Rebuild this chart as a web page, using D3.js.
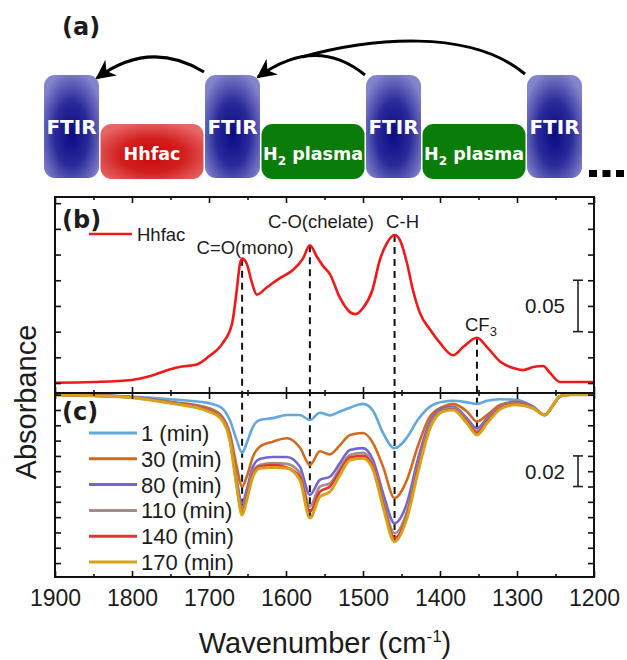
<!DOCTYPE html>
<html lang="en">
<head>
<meta charset="UTF-8">
<title>FTIR Hhfac / H2 plasma</title>
<script src="https://cdn.jsdelivr.net/npm/d3@7/dist/d3.min.js"></script>
<style>
  body{margin:0;background:#fff;}
  svg text{font-family:"Liberation Sans", Arial, sans-serif; fill:#1c1c1c;}
  svg text.bold{font-family:"DejaVu Sans", Verdana, sans-serif; font-weight:bold;}
  .frame{fill:none;stroke:#111;stroke-width:2px;}
  .axis path{display:none;}
  .axis line{stroke:#111;stroke-width:1.6px;}
  .axis text{font-size:23px;}
  .spec{fill:none;stroke-width:2.6px;stroke-linejoin:round;}
</style>
</head>
<body>
<svg id="main" width="627" height="660"></svg>
<script>
// ---- data ----
const steps = ["FTIR", "Hhfac", "FTIR", "H2 plasma", "FTIR", "H2 plasma", "FTIR"];
const arrowFrom = [2, 4, 6];
const arrowTo = [0, 2, 2];

const wnTicks = [1900, 1800, 1700, 1600, 1500, 1400, 1300, 1200];
const wnMinor = [1850, 1750, 1650, 1550, 1450, 1350, 1250];

// (b) Hhfac spectrum
const hhfacWn = [1900, 1850, 1800, 1775, 1750, 1735, 1716, 1700, 1682, 1670, 1664, 1660, 1657, 1651, 1644, 1638,
  1625, 1608, 1591, 1578, 1569, 1560, 1552, 1543, 1530, 1517, 1510, 1500, 1488, 1478, 1469, 1459, 1452, 1443,
  1435, 1426, 1413, 1400, 1383, 1370, 1352, 1339, 1322, 1305, 1292, 1279, 1266, 1257, 1244, 1200];
const hhfacAbs = [0.0003, 0.001, 0.003, 0.007, 0.0135, 0.016, 0.018, 0.026, 0.039, 0.058, 0.090, 0.115, 0.121, 0.116, 0.097, 0.086,
  0.093, 0.102, 0.110, 0.121, 0.134, 0.123, 0.114, 0.106, 0.083, 0.069, 0.067, 0.073, 0.090, 0.120, 0.136, 0.144, 0.139, 0.117,
  0.090, 0.068, 0.052, 0.039, 0.027, 0.035, 0.044, 0.035, 0.021, 0.0146, 0.0126, 0.0155, 0.0165, 0.0097, 0.001, 0.001];

// (c) difference spectra after plasma time
const diffWn = [1900, 1850, 1800, 1750, 1700, 1683, 1673, 1664, 1657, 1651, 1643, 1634, 1617, 1599, 1582, 1569, 1556, 1543,
  1530, 1517, 1500, 1487, 1474, 1459, 1443, 1429, 1413, 1396, 1383, 1365, 1352, 1339, 1322, 1301, 1279, 1264, 1253, 1244, 1230, 1200];
const t1 = [0, -0.0005, -0.0013, -0.003, -0.0055, -0.0088, -0.0166, -0.0297, -0.038, -0.0316, -0.021, -0.0166, -0.0153, -0.0133,
  -0.0133, -0.0165, -0.0118, -0.0135, -0.011, -0.0085, -0.006, -0.0105, -0.025, -0.035, -0.028, -0.0166, -0.0078, -0.0046, -0.004,
  -0.005, -0.006, -0.004, -0.003, -0.0033, -0.0078, -0.0133, -0.0067, -0.001, 0, 0];
const t30 = [0, -0.0006, -0.0015, -0.0046, -0.0088, -0.0143, -0.025, -0.047, -0.060, -0.0536, -0.0405, -0.034, -0.0307, -0.0285,
  -0.0345, -0.046, -0.037, -0.039, -0.033, -0.0263, -0.025, -0.0316, -0.047, -0.0675, -0.0557, -0.034, -0.0143, -0.0078, -0.006,
  -0.011, -0.0176, -0.0133, -0.0067, -0.0046, -0.008, -0.0133, -0.0067, -0.001, 0, 0];
const t80 = [0, -0.0006, -0.0016, -0.005, -0.010, -0.015, -0.0275, -0.0557, -0.071, -0.062, -0.047, -0.042, -0.0407, -0.0407,
  -0.047, -0.0655, -0.0557, -0.0536, -0.0447, -0.0361, -0.0349, -0.0427, -0.0643, -0.084, -0.071, -0.0427, -0.0176, -0.0088, -0.0078,
  -0.0153, -0.022, -0.0153, -0.0078, -0.005, -0.008, -0.0133, -0.0067, -0.001, 0, 0];
const t110 = [0, -0.0006, -0.0017, -0.0052, -0.0103, -0.0155, -0.0285, -0.058, -0.074, -0.065, -0.050, -0.046, -0.0447, -0.0452,
  -0.051, -0.073, -0.060, -0.058, -0.048, -0.0394, -0.038, -0.046, -0.069, -0.0905, -0.0765, -0.047, -0.0198, -0.010, -0.0088,
  -0.0166, -0.024, -0.0166, -0.0083, -0.0055, -0.0085, -0.0133, -0.0067, -0.001, 0, 0];
const t140 = [0, -0.0006, -0.0018, -0.0054, -0.0106, -0.016, -0.029, -0.059, -0.0765, -0.067, -0.052, -0.047, -0.046, -0.0475,
  -0.0536, -0.0765, -0.0634, -0.060, -0.050, -0.041, -0.040, -0.047, -0.071, -0.0937, -0.079, -0.049, -0.021, -0.0105, -0.0095,
  -0.0175, -0.025, -0.0175, -0.009, -0.006, -0.0088, -0.0133, -0.0067, -0.001, 0, 0];
const t170 = [0, -0.0007, -0.002, -0.0055, -0.011, -0.0166, -0.0297, -0.060, -0.0786, -0.069, -0.0536, -0.048, -0.0475, -0.048,
  -0.0557, -0.0806, -0.0667, -0.0634, -0.0525, -0.0427, -0.0416, -0.049, -0.0732, -0.096, -0.0808, -0.0514, -0.022, -0.011, -0.010,
  -0.0187, -0.0263, -0.0187, -0.0095, -0.0065, -0.0089, -0.0133, -0.0067, -0.001, 0, 0];
const timeLabels = ["1 (min)", "30 (min)", "80 (min)", "110 (min)", "140 (min)", "170 (min)"];
const timeSeries = [t1, t30, t80, t110, t140, t170];
const timeColors = ["#62a8dc", "#d06a1c", "#7466d0", "#a48c88", "#d83838", "#d6a21a"];

// peak markers
const peakWn = [1657, 1569, 1459, 1352];
const peakNames = ["C=O(mono)", "C-O(chelate)", "C-H", "CF3"];

// scale bars
const barB = [0.05, 0.10], barBLabel = "0.05";
const barC = [-0.06, -0.04], barCLabel = "0.02";

// ---- drawing ----
let svg = d3.select('svg#main');
let defs = svg.append('defs');

function radial(id, c0, c1, c2) {
  let g = defs.append('radialGradient').attr('id', id)
    .attr('cx', '50%').attr('cy', '57%').attr('r', '62%');
  g.append('stop').attr('offset', '0%').attr('stop-color', c0);
  g.append('stop').attr('offset', '50%').attr('stop-color', c1);
  g.append('stop').attr('offset', '100%').attr('stop-color', c2);
}
radial('gFtir', '#0a0a84', '#2a2a9a', '#8484cc');
radial('gHhfac', '#c80a0a', '#d21e1e', '#e66666');

defs.append('marker').attr('id', 'head')
  .attr('viewBox', '0 0 10 10').attr('refX', 9).attr('refY', 5)
  .attr('markerWidth', 6.5).attr('markerHeight', 6.5).attr('orient', 'auto')
  .append('path').attr('d', 'M0,0 L10,5 L0,10 L3,5 Z').attr('fill', '#000');

// (a) schematic
let diag = svg.append('g');
let boxes = [];
let cx = 44;
steps.forEach(function (s) {
  let w = s === 'FTIR' ? 55 : 103;
  boxes.push({name: s, x0: cx, x1: cx + w, top: s === 'FTIR' ? 75 : 124, bottom: s === 'FTIR' ? 178 : 179});
  cx += w + 1.5;
});
diag.selectAll('rect.step').data(boxes).enter().append('rect')
  .attr('class', 'step')
  .attr('x', d => d.x0).attr('y', d => d.top)
  .attr('width', d => d.x1 - d.x0).attr('height', d => d.bottom - d.top)
  .attr('rx', 11)
  .attr('fill', d => d.name === 'FTIR' ? 'url(#gFtir)' : d.name === 'Hhfac' ? 'url(#gHhfac)' : '#0a7c0a');
diag.selectAll('text.step').data(boxes).enter().append('text')
  .attr('class', 'bold')
  .attr('x', d => (d.x0 + d.x1) / 2)
  .attr('y', d => d.name === 'FTIR' ? 134 : 160)
  .attr('text-anchor', 'middle')
  .style('fill', '#fff')
  .style('font-size', d => d.name === 'FTIR' ? '20px' : '17.5px')
  .each(function (d) {
    let t = d3.select(this);
    if (d.name.startsWith('H2')) {
      t.append('tspan').text('H');
      t.append('tspan').attr('dy', 5).style('font-size', '12px').text('2');
      t.append('tspan').attr('dy', -5).text(' plasma');
    } else {
      t.text(d.name);
    }
  });

// arrows
let a1s = boxes[arrowFrom[0]], a1t = boxes[arrowTo[0]];
diag.append('path')
  .attr('d', `M${a1s.x0 - 1},${a1s.top - 3} Q${(a1s.x0 + a1t.x1) / 2 - 2},${a1s.top - 36} ${a1t.x1 - 2},${a1t.top + 3}`)
  .attr('fill', 'none').attr('stroke', '#000').attr('stroke-width', 3).attr('marker-end', 'url(#head)');
let a2s = boxes[arrowFrom[1]], a2t = boxes[arrowTo[1]];
diag.append('path')
  .attr('d', `M${a2s.x0 - 1},${a2s.top} Q${(a2s.x0 + a2t.x1) / 2 + 3},${a2s.top - 40} ${a2t.x1 - 2},${a2t.top + 2}`)
  .attr('fill', 'none').attr('stroke', '#000').attr('stroke-width', 3).attr('marker-end', 'url(#head)');
let a3s = boxes[arrowFrom[2]];
diag.append('path')
  .attr('d', `M${a3s.x0 - 2},${a3s.top - 1} C${a3s.x0 - 57},28 ${a3s.x0 - 157},38 302,57`)
  .attr('fill', 'none').attr('stroke', '#000').attr('stroke-width', 3);

// dots
diag.selectAll('rect.dot').data([0, 1, 2]).enter().append('rect')
  .attr('x', d => 589 + d * 13.5).attr('y', 170).attr('width', 8).attr('height', 7).attr('fill', '#000');

diag.append('text').attr('class', 'bold').attr('x', 62).attr('y', 35)
  .style('font-size', '24px').text('(a)');

// (b) and (c)
let x = d3.scaleLinear().domain([1900, 1200]).range([55, 594]);
let yB = d3.scaleLinear().domain([-0.0097, 0.181]).range([393, 197]);
let yC = d3.scaleLinear().domain([-0.1191, 0.0011]).range([577, 393]);

let lineB = d3.line().x((d, i) => x(hhfacWn[i])).y(d => yB(d)).curve(d3.curveMonotoneX);
let lineC = d3.line().x((d, i) => x(diffWn[i])).y(d => yC(d)).curve(d3.curveMonotoneX);

// dashed peak lines: from the Hhfac peak to the deepest (170 min) dip
let dash = svg.append('g');
peakWn.forEach(function (w) {
  let top = hhfacAbs[hhfacWn.indexOf(w)];
  let bot = t170[diffWn.indexOf(w)];
  dash.append('line')
    .attr('x1', x(w)).attr('x2', x(w))
    .attr('y1', yB(top)).attr('y2', yC(bot))
    .attr('stroke', '#111').attr('stroke-width', 2).attr('stroke-dasharray', '7,5');
});

let specB = svg.append('g');
specB.append('path').attr('class', 'spec').attr('d', lineB(hhfacAbs)).attr('stroke', '#f01818');

let specC = svg.append('g');
timeSeries.forEach(function (s, i) {
  specC.append('path').attr('class', 'spec').attr('d', lineC(s))
    .attr('stroke', timeColors[i]).style('stroke-width', i === 5 ? '3px' : '2.6px');
});

// axes
function addAxis(axis, tx, ty) {
  svg.append('g').attr('class', 'axis').attr('transform', `translate(${tx},${ty})`).call(axis);
}
[[d3.axisTop, 197], [d3.axisBottom, 393], [d3.axisTop, 393]].forEach(function (a) {
  addAxis(a[0](x).tickValues(wnTicks).tickSize(-6).tickFormat(''), 0, a[1]);
  addAxis(a[0](x).tickValues(wnMinor).tickSize(-3).tickFormat(''), 0, a[1]);
});
addAxis(d3.axisBottom(x).tickValues(wnTicks).tickSize(-6).tickPadding(13).tickFormat(d3.format('d')), 0, 577);
addAxis(d3.axisBottom(x).tickValues(wnMinor).tickSize(-3).tickFormat(''), 0, 577);

let yBTicks = d3.range(0, 0.18, 0.025);
let yCTicks = d3.range(0, -0.115, -0.01);
addAxis(d3.axisLeft(yB).tickValues(yBTicks).tickSize(-6).tickFormat(''), 55, 0);
addAxis(d3.axisRight(yB).tickValues(yBTicks).tickSize(-6).tickFormat(''), 594, 0);
addAxis(d3.axisLeft(yC).tickValues(yCTicks).tickSize(-6).tickFormat(''), 55, 0);
addAxis(d3.axisRight(yC).tickValues(yCTicks).tickSize(-6).tickFormat(''), 594, 0);

svg.append('rect').attr('class', 'frame').attr('x', 55).attr('y', 197).attr('width', 539).attr('height', 196);
svg.append('rect').attr('class', 'frame').attr('x', 55).attr('y', 393).attr('width', 539).attr('height', 184);

// peak labels
let labelDx = [3, 11, 8, 4];
let labelDy = [-5, -17, -7, -7];
peakWn.forEach(function (w, i) {
  let v = hhfacAbs[hhfacWn.indexOf(w)];
  let t = svg.append('text').attr('x', x(w) + labelDx[i]).attr('y', yB(v) + labelDy[i])
    .attr('text-anchor', 'middle').style('font-size', '18.5px');
  if (peakNames[i] === 'CF3') {
    t.append('tspan').text('CF');
    t.append('tspan').attr('dy', 5).style('font-size', '13px').text('3');
  } else {
    t.text(peakNames[i]);
  }
});

// scale bars
function scaleBar(y, vals, label) {
  let g = svg.append('g').attr('stroke', '#222').attr('stroke-width', 1.6);
  g.append('line').attr('x1', 578).attr('x2', 578).attr('y1', y(vals[0])).attr('y2', y(vals[1]));
  vals.forEach(function (v) {
    g.append('line').attr('x1', 573).attr('x2', 583).attr('y1', y(v)).attr('y2', y(v));
  });
  svg.append('text').attr('x', 565).attr('y', (y(vals[0]) + y(vals[1])) / 2 + 7.5)
    .attr('text-anchor', 'end').style('font-size', '20.5px').text(label);
}
scaleBar(yB, barB, barBLabel);
scaleBar(yC, barC, barCLabel);

// legends
svg.append('line').attr('x1', 89).attr('x2', 132).attr('y1', 234).attr('y2', 234)
  .attr('stroke', '#f01818').attr('stroke-width', 2.6);
svg.append('text').attr('x', 137).attr('y', 240.5).style('font-size', '18.5px').text('Hhfac');

let leg = svg.append('g');
timeLabels.forEach(function (l, i) {
  let yy = 433 + i * 25.8;
  leg.append('line').attr('x1', 89).attr('x2', 137).attr('y1', yy).attr('y2', yy)
    .attr('stroke', timeColors[i]).attr('stroke-width', 3);
  leg.append('text').attr('x', 141).attr('y', yy + 8).style('font-size', '22px').text(l);
});

svg.append('text').attr('class', 'bold').attr('x', 62).attr('y', 228).style('font-size', '24px').text('(b)');
svg.append('text').attr('class', 'bold').attr('x', 62).attr('y', 420).style('font-size', '24px').text('(c)');

// axis titles
svg.append('text').attr('transform', 'translate(36,402) rotate(-90)')
  .attr('text-anchor', 'middle').style('font-size', '29px').text('Absorbance');
let xt = svg.append('text').attr('x', 325).attr('y', 653).attr('text-anchor', 'middle').style('font-size', '29px');
xt.append('tspan').text('Wavenumber (cm');
xt.append('tspan').attr('dy', -11).style('font-size', '17px').text('-1');
xt.append('tspan').attr('dy', 11).text(')');
</script>
</body>
</html>
